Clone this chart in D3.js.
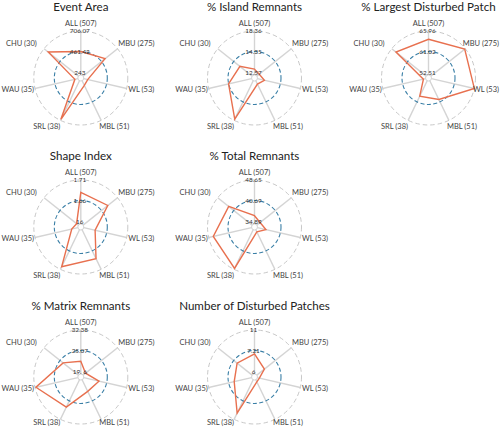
<!DOCTYPE html>
<html>
<head>
<meta charset="utf-8">
<script src="https://cdn.jsdelivr.net/npm/d3@7"></script>
<style>
  html, body { margin: 0; padding: 0; background: #fff; }
  svg { display: block; }
</style>
</head>
<body>
<svg id="chart" width="500" height="428"></svg>
<script>
// ---------------- DATA ----------------
const categories = ["ALL (507)", "MBU (275)", "WL (53)", "MBL (51)", "SRL (38)", "WAU (35)", "CHU (30)"];

const titles = ["Event Area", "% Island Remnants", "% Largest Disturbed Patch",
                "Shape Index", "% Total Remnants",
                "% Matrix Remnants", "Number of Disturbed Patches"];

// ring values: [centre, middle (blue ring), outer ring]
const tickValues = [
  [243, 461.42, 706.07],
  [12.57, 14.35, 18.36],
  [52.51, 61.02, 65.96],
  [1.6, 1.66, 1.71],
  [34.89, 40.69, 48.65],
  [19.6, 25.07, 32.38],
  [6, 7.21, 11]
];
const tickLabels = [
  ["243", "461.42", "706.07"],
  ["12.57", "14.35", "18.36"],
  ["52.51", "61.02", "65.96"],
  ["16", "1.66", "1.71"],
  ["34.89", "40.69", "48.65"],
  ["19. 6", "25.07", "32.38"],
  ["6", "7.21", "11"]
];

// series values, in category order (ALL, MBU, WL, MBL, SRL, WAU, CHU)
const eventArea          = [461, 515, 264, 275, 692, 254, 643];
const islandRemnants     = [12.89, 12.66, 13.0, 12.72, 18.07, 14.37, 13.70];
const largestDisturbed   = [63.96, 65.79, 65.96, 59.98, 58.53, 52.6, 64.66];
const shapeIndex         = [1.680, 1.6795, 1.627, 1.681, 1.703, 1.612, 1.601];
const totalRemnants      = [36.59, 35.46, 36.7, 35.0, 48.26, 46.82, 43.21];
const matrixRemnants     = [22.35, 19.87, 23.07, 22.38, 27.53, 32.03, 24.08];
const disturbedPatches   = [7.02, 6.43, 6.0, 6.02, 9.71, 6.89, 6.97];

const seriesList = [eventArea, islandRemnants, largestDisturbed, shapeIndex,
                    totalRemnants, matrixRemnants, disturbedPatches];

// ---------------- LAYOUT ----------------
const W = 500, H = 428;
const svg = d3.select("#chart");
const R = 47, rMid = 26.5, r0 = 5, rInner = 3;
const colX = [80.8, 254.5, 428.5];
const rowY = [78, 227, 377];
const gridPos = [[0, 0], [1, 0], [2, 0], [0, 1], [1, 1], [0, 2], [1, 2]];
// label placement relative to centre (layout only): [dx, dy, anchor]
const labelOffsets = [[0, -54.5, "middle"], [37.5, -34.7, "start"], [47.5, 11.3, "start"],
                      [18.5, 48, "start"], [-20.5, 48, "end"], [-79.3, 11.3, "start"],
                      [-44, -34.7, "end"]];

const n = categories.length;
const angle = d3.scaleLinear().domain([0, n]).range([0, 2 * Math.PI]);
const FONT = "Lato, 'Open Sans', sans-serif";

seriesList.forEach((values, k) => {
  const cx = colX[gridPos[k][0]], cy = rowY[gridPos[k][1]];
  const g = svg.append("g").attr("transform", `translate(${cx},${cy})`);
  const rScale = d3.scaleLinear().domain(tickValues[k]).range([r0, rMid, R]);

  // title
  g.append("text")
    .attr("x", 0).attr("y", -67.5)
    .attr("text-anchor", "middle")
    .attr("font-family", FONT)
    .attr("font-size", 11.6)
    .attr("fill", "#222")
    .text(titles[k]);

  // axes
  g.selectAll("line.axis").data(categories).join("line")
    .attr("class", "axis")
    .attr("x1", (d, i) => rInner * Math.sin(angle(i)))
    .attr("y1", (d, i) => -rInner * Math.cos(angle(i)))
    .attr("x2", (d, i) => R * Math.sin(angle(i)))
    .attr("y2", (d, i) => -R * Math.cos(angle(i)))
    .attr("stroke", "#d4d4d4")
    .attr("stroke-width", 1.4);

  // rings
  g.append("circle").attr("r", R)
    .attr("fill", "none").attr("stroke", "#c8c8c8")
    .attr("stroke-width", 1).attr("stroke-dasharray", "4.5,3");
  g.append("circle").attr("r", rMid)
    .attr("fill", "none").attr("stroke", "#3a7fa6")
    .attr("stroke-width", 1.1).attr("stroke-dasharray", "4,2.5");
  g.append("circle").attr("r", rInner)
    .attr("fill", "none").attr("stroke", "#d4d4d4")
    .attr("stroke-width", 1);

  // data polygon
  const line = d3.lineRadial()
    .angle((d, i) => angle(i))
    .radius(d => rScale(d))
    .curve(d3.curveLinearClosed);
  g.append("path").datum(values)
    .attr("d", line)
    .attr("fill", "none")
    .attr("stroke", "#e8704f")
    .attr("stroke-width", 1.4)
    .attr("stroke-linejoin", "miter");

  // ring value labels along the ALL axis
  g.selectAll("text.tick").data(tickValues[k]).join("text")
    .attr("class", "tick")
    .attr("x", -1)
    .attr("y", d => -rScale(d))
    .attr("dy", "0.35em")
    .attr("text-anchor", "middle")
    .attr("font-family", FONT)
    .attr("font-size", 6.4)
    .attr("fill", "#333")
    .text((d, i) => tickLabels[k][i]);

  // category labels (kept inside the picture)
  g.selectAll("text.cat").data(categories).join("text")
    .attr("class", "cat")
    .attr("x", (d, i) => labelOffsets[i][0])
    .attr("y", (d, i) => Math.min(cy + labelOffsets[i][1], H - 5.5) - cy)
    .attr("dy", "0.35em")
    .attr("text-anchor", (d, i) => labelOffsets[i][2])
    .attr("font-family", FONT)
    .attr("font-size", 7.5)
    .attr("fill", "#444")
    .text(d => d)
    .each(function () {
      const b = this.getBBox();
      const x = +this.getAttribute("x");
      if (cx + b.x + b.width > W - 1) this.setAttribute("x", x - (cx + b.x + b.width - (W - 1)));
      else if (cx + b.x < 1) this.setAttribute("x", x + (1 - (cx + b.x)));
    });
});
</script>
</body>
</html>
